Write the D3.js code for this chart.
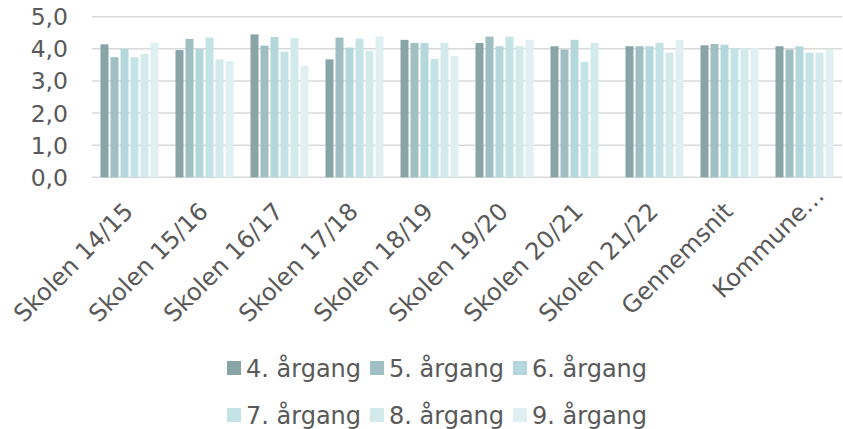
<!DOCTYPE html>
<html>
<head>
<meta charset="utf-8">
<script src="https://cdn.jsdelivr.net/npm/d3@7"></script>
<style>
  body { margin: 0; background: #fff; }
  svg text { font-family: "DejaVu Sans", Verdana, sans-serif; fill: #595959; }
</style>
</head>
<body>
<div id="chart"></div>
<script>
var categories = ['Skolen 14/15', 'Skolen 15/16', 'Skolen 16/17', 'Skolen 17/18', 'Skolen 18/19',
                  'Skolen 19/20', 'Skolen 20/21', 'Skolen 21/22', 'Gennemsnit', 'Kommune…'];
var seriesNames = ['4. årgang', '5. årgang', '6. årgang', '7. årgang', '8. årgang', '9. årgang'];
var aargang4 = [4.14, 3.96, 4.45, 3.67, 4.28, 4.18, 4.08, 4.08, 4.11, 4.08];
var aargang5 = [3.74, 4.31, 4.10, 4.35, 4.18, 4.38, 3.98, 4.08, 4.15, 3.98];
var aargang6 = [4.00, 4.00, 4.37, 4.04, 4.18, 4.08, 4.28, 4.08, 4.13, 4.08];
var aargang7 = [3.74, 4.35, 3.91, 4.32, 3.68, 4.38, 3.59, 4.18, 4.02, 3.88];
var aargang8 = [3.84, 3.67, 4.34, 3.94, 4.18, 4.08, 4.18, 3.88, 4.02, 3.88];
var aargang9 = [4.19, 3.62, 3.47, 4.38, 3.78, 4.28, null, 4.28, 4.02, 3.98];
var yTicks = [0, 1, 2, 3, 4, 5];
var colors = ['#88a4a6', '#a0bfc2', '#b3d7db', '#c4e3e6', '#d3eaed', '#e0f0f2'];

var series = [aargang4, aargang5, aargang6, aargang7, aargang8, aargang9];
var W = 843, H = 429, FS = 24;

var svg = d3.select('#chart').append('svg')
    .attr('width', W)
    .attr('height', H);

var x0 = d3.scaleBand().domain(categories).range([92, 842]).paddingInner(0.2).paddingOuter(0.1);
var x1 = d3.scaleBand().domain(d3.range(series.length)).range([0, x0.bandwidth()]).paddingInner(0.2).paddingOuter(0.1);
var y = d3.scaleLinear().domain([0, 5]).range([177.3, 16.7]);
var fmt = d3.formatLocale({decimal: ',', thousands: '.', grouping: [3], currency: ['', ' kr']}).format('.1f');

// gridlines
svg.append('g').selectAll('line')
    .data(yTicks)
    .join('line')
    .attr('x1', 92).attr('x2', 842)
    .attr('y1', function(d) { return y(d); })
    .attr('y2', function(d) { return y(d); })
    .attr('stroke', '#d9d9d9')
    .attr('stroke-width', 1.5);

// y labels
svg.append('g').selectAll('text')
    .data(yTicks)
    .join('text')
    .attr('x', 68)
    .attr('y', function(d) { return y(d); })
    .attr('dy', '0.36em')
    .attr('text-anchor', 'end')
    .style('font-size', (FS - 0.5) + 'px')
    .text(function(d) { return fmt(d); });

// bars
var groups = svg.append('g').selectAll('g')
    .data(categories)
    .join('g')
    .attr('transform', function(d) { return 'translate(' + x0(d) + ',0)'; });

groups.selectAll('rect')
    .data(function(c, i) {
        return series.map(function(s, k) { return {k: k, v: s[i]}; }).filter(function(d) { return d.v != null; });
    })
    .join('rect')
    .attr('x', function(d) { return x1(d.k); })
    .attr('width', x1.bandwidth())
    .attr('y', function(d) { return y(d.v); })
    .attr('height', function(d) { return y(0) - y(d.v); })
    .attr('fill', function(d) { return colors[d.k]; });

// x labels, rotated
svg.append('g').selectAll('text')
    .data(categories)
    .join('text')
    .attr('transform', function(d) {
        var cx = x0(d) + x0.bandwidth() / 2;
        // truncated label sits further along the slant
        var shift = d.slice(-1) === '…' ? 16 : 0;
        return 'translate(' + (cx + shift - 1) + ',' + (207 - shift) + ') rotate(-45)';
    })
    .attr('text-anchor', 'end')
    .attr('dy', '0.35em')
    .style('font-size', FS + 'px')
    .text(function(d) { return d; });

// legend, two rows of three
var legend = svg.append('g').selectAll('g')
    .data(seriesNames)
    .join('g')
    .attr('transform', function(d, i) {
        return 'translate(' + (227 + (i % 3) * 143) + ',' + (361 + Math.floor(i / 3) * 47) + ')';
    });

legend.append('rect')
    .attr('width', 14).attr('height', 14)
    .attr('fill', function(d, i) { return colors[i]; });

legend.append('text')
    .attr('x', 19)
    .attr('y', 7)
    .attr('dy', '0.36em')
    .style('font-size', FS + 'px')
    .text(function(d) { return d; });
</script>
</body>
</html>
